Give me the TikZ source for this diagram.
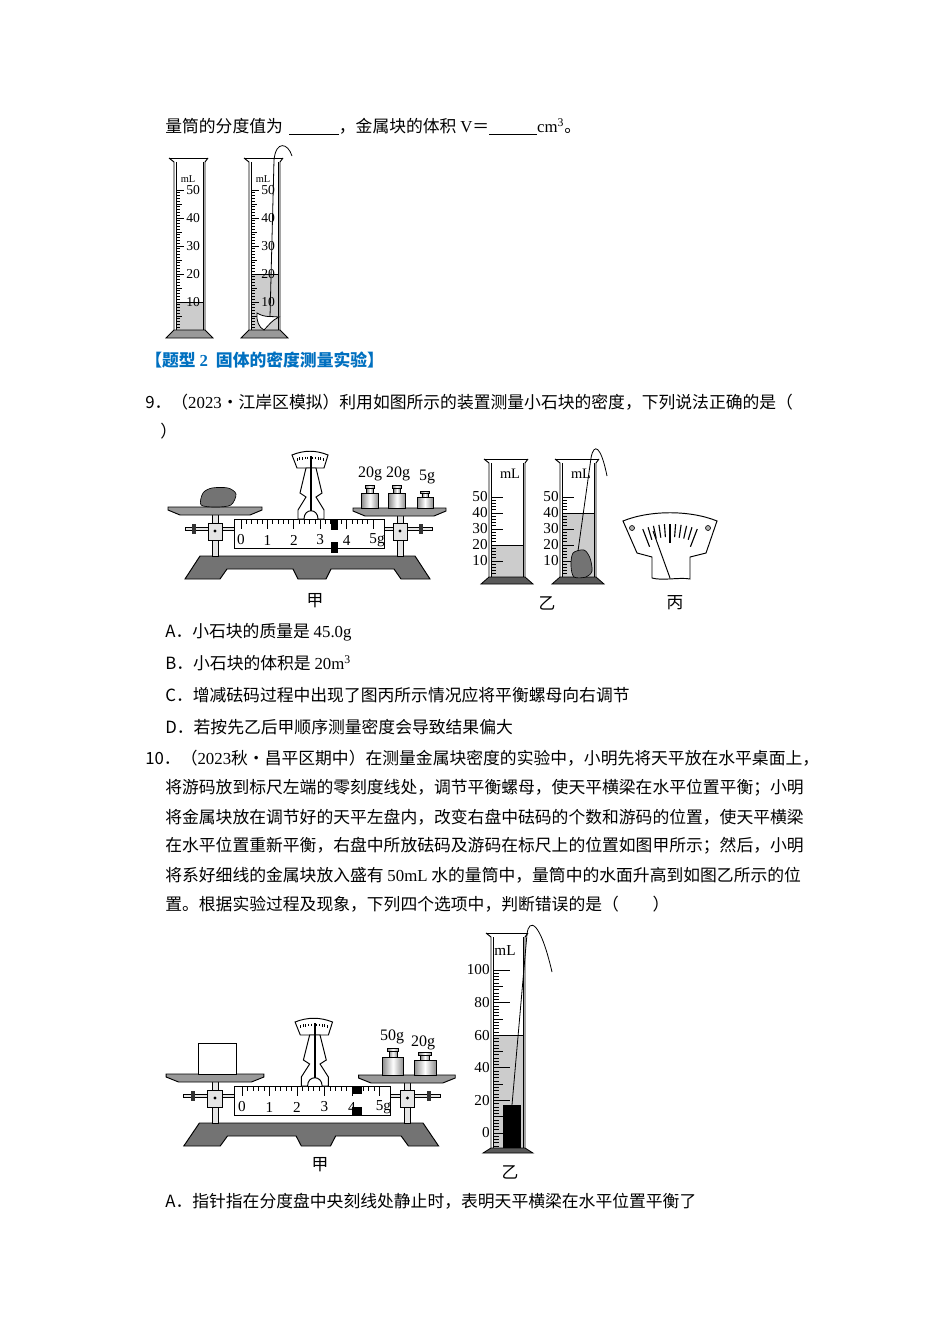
\documentclass[tikz,border=0pt]{standalone}
\usepackage{fontspec}
\setmainfont{Liberation Serif}
\newfontfamily\cjk{Noto Sans CJK SC}
\definecolor{headblue}{RGB}{0,112,192}
\newcommand*{\ltn}[1]{{\rmfamily #1}}
\newcommand*{\blank}[1]{\underline{\hspace{#1}}}
% glass tube: left, right, top, bottom
\newcommand*{\glass}[4]{%
  \draw[glassline] ({#1-5},#3) -- ({#2+3},#3);
  \draw[glassline] ({#1-5},#3) -- (#1,{#3+4}) -- (#1,#4);
  \draw[glassline] ({#2+3},#3) -- (#2,{#3+4}) -- (#2,#4);
  \draw[line width=0.3pt] ({#1+2},{#3+4}) -- ({#1+2},#4);
  \draw[line width=0.3pt] ({#2-2},{#3+4}) -- ({#2-2},#4);}
% foot of a tube: left, right, top, bottom, colour
\newcommand*{\cylbase}[5]{%
  \draw[fill=#5, line width=0.5pt] (#1,#3) -- (#2,#3) -- ({#2+8},#4) -- ({#1-8},#4) -- cycle;}
% weight: centre x, bottom y, width, height
\newcommand*{\mass}[4]{%
  \shadedraw[metal] ({#1-#3/2},{#2-#4}) rectangle ({#1+#3/2},#2);
  \shadedraw[metal] ({#1-0.19*#3},{#2-1.3*#4}) rectangle ({#1+0.19*#3},{#2-#4});
  \shadedraw[metal] ({#1-0.28*#3},{#2-1.5*#4}) rectangle ({#1+0.28*#3},{#2-1.3*#4});}
% balance without load
\newcommand*{\balanceframe}{%
  \draw[balbase] (200,556) -- (415,556) -- (430,579) -- (401,579) -- (394,569)
     -- (331,569) -- (326,579) -- (298,579) -- (293,569) -- (227,569)
     -- (220,579) -- (185,579) -- cycle;
  % screw rods
  \draw[part] (185,527.5) rectangle (236,530.5);
  \draw[part] (382,527.5) rectangle (432,530.5);
  \fill[black!80] (192,524) rectangle (196,534);
  \fill[black!80] (419,524) rectangle (423,534);
  % pillars
  \foreach \px in {215,400} {
    \draw[part] (\px-3,514) rectangle (\px+3,556);
    \draw[part] (\px-7,523) rectangle (\px+7,540);
    \fill (\px,531) circle (1.6);
  }
  % pans
  \draw[pan] (168,507) -- (262,507) -- (262,510) -- (250,515) -- (180,515) -- (168,510) -- cycle;
  \draw[pan] (353,508) -- (446,508) -- (446,511) -- (434,516) -- (365,516) -- (353,511) -- cycle;
  % beam
  \draw[fill=white, line width=0.6pt] (234,519) rectangle (384,548);
  \foreach \k in {0,...,25}
    \draw[tickline] ({241+5.28*\k},519) -- ++(0,{ifthenelse(mod(\k,5)==0,10,5)});
  \foreach \k in {0,...,4}
    \node[num] (beam\k) at ({241+26.4*\k},540) {\k};
  \node[num] (beam5) at (377,540) {5g};
  % dial and stand
  \draw[fill=white, line width=0.6pt] (292,455) .. controls (304,450) and (316,450) .. (328,455)
     -- (324,468) -- (297,468) -- cycle;
  \foreach \k in {-5,...,5}
    \draw[line width=0.3pt] ({310+2.6*\k},{456.5+0.06*\k*\k}) -- ++(0,2.5);
  \draw[fill=white, line width=0.6pt] (306,468) -- (300,493) -- (306,497) -- (298,510) -- (298,519)
     -- (304,519) .. controls (304,508) and (318,508) .. (318,519) -- (324,519) -- (324,510)
     -- (316,497) -- (322,493) -- (316,468) -- cycle;
  \draw[line width=1.3pt] (311,456) -- (311,511);}

\tikzset{
  txt/.style={anchor=west, inner sep=0pt, font=\cjk\fontsize{10.5}{12}\selectfont},
  figlabel/.style={inner sep=0pt, font=\cjk\fontsize{10.5}{12}\selectfont},
  num/.style={inner sep=0pt, font=\fontsize{9.5}{10}\selectfont},
  balbase/.style={draw, fill=black!55, line width=0.6pt},
  part/.style={draw, fill=gray!20, line width=0.4pt},
  pan/.style={draw, fill=black!40, line width=0.6pt},
  metal/.style={left color=gray!90, right color=gray!90, middle color=white, line width=0.5pt},
  tickline/.style={line width=0.4pt},
  glassline/.style={line width=0.6pt},
  water/.style={fill=gray!40},
}

\begin{document}
\begin{tikzpicture}[x=0.625pt, y=-0.625pt]
\useasboundingbox[fill=white] (0,0) rectangle (950,1344);

% Text of question 8
\node[txt] (line1) at (165,127) {量筒的分度值为\hspace{4pt}\blank{31pt}，金属块的体积 \ltn{V}＝\blank{30pt}\ltn{cm\textsuperscript{3}}。};

% Two cylinders of question 8
\fill[water] (176,302) rectangle (203,330);
\draw[glassline] (176,302) -- (203,302);
\fill[water] (251,274) rectangle (278,330);
\draw[glassline] (251,274) -- (278,274);
\foreach \sx in {0,75} {
  \foreach \k in {1,...,50} {
    \pgfmathsetmacro{\ticklen}{ifthenelse(mod(\k,10)==0,8,ifthenelse(mod(\k,5)==0,6,4))}
    \draw[tickline] ({176+\sx},{330-2.8*\k}) -- ++(\ticklen,0);
  }
  \foreach \k in {10,20,...,50}
    \node[num, anchor=west, font=\fontsize{8.5}{9}\selectfont] (top\sx n\k) at ({186+\sx},{330-2.8*\k}) {\k};
  \node[num, font=\fontsize{6.5}{7}\selectfont] (topml\sx) at ({188+\sx},179) {mL};
  \glass{174+\sx}{205+\sx}{158}{330}
  \cylbase{174+\sx}{205+\sx}{330}{338}{black!40}
}
\draw[fill=white, line width=0.5pt] (257,313) .. controls (265,318) and (272,316) .. (279,317)
   .. controls (272,320) and (268,326) .. (264,330) .. controls (259,328) and (256,320) .. cycle;
\draw[line width=0.5pt] (270,317) -- (274,160) .. controls (276,140) and (288,143) .. (292,156);

% Heading
\node[txt, font=\cjk\bfseries\fontsize{10.5}{12}\selectfont, text=headblue] (head) at (145,360) {【题型 \ltn{2}\hspace{5pt}固体的密度测量实验】};

% Question 9
\node[txt] (q9a) at (145,402) {9．（\ltn{2023}•江岸区模拟）利用如图所示的装置测量小石块的密度，下列说法正确的是（};
\node[txt] (q9b) at (160,431) {）};

% Balance of question 9
\balanceframe
\fill[black!55, draw=black, line width=0.4pt] plot[smooth cycle] coordinates
   {(201,505) (203,493) (212,488) (228,488) (236,494) (231,505) (216,507)};
\mass{370}{508}{17}{15}
\mass{397}{508}{17}{15}
\mass{425}{508}{16}{11}
\node[num, font=\fontsize{10}{11}\selectfont] (w1) at (370,474) {20g};
\node[num, font=\fontsize{10}{11}\selectfont] (w2) at (398,474) {20g};
\node[num, font=\fontsize{10}{11}\selectfont] (w3) at (427,477) {5g};
\fill (331,519) rectangle (338,530);
\fill (331,542) rectangle (338,553);
\node[figlabel] (jia1) at (315,601) {甲};

% Cylinders of question 9
\fill[water] (491,545) rectangle (523,577);
\draw[glassline] (491,545) -- (523,545);
\fill[water] (562,513) rectangle (594,577);
\draw[glassline] (562,513) -- (594,513);
\foreach \sx in {0,71} {
  \foreach \k in {2,4,...,50}
    \draw[tickline] ({491+\sx},{577-1.6*\k}) -- ++({ifthenelse(mod(\k,10)==0,12,5)},0);
  \foreach \k in {10,20,...,50}
    \node[num, anchor=east] (mid\sx n\k) at ({488+\sx},{577-1.6*\k}) {\k};
  \node[num, font=\fontsize{9}{10}\selectfont] (midml\sx) at ({510+\sx},474) {mL};
  \glass{489+\sx}{525+\sx}{459}{577}
  \cylbase{489+\sx}{525+\sx}{577}{584}{black!65}
}
\fill[black!55, draw=black, line width=0.4pt] plot[smooth cycle] coordinates
   {(573,553) (584,550) (590,558) (592,571) (586,577) (574,577) (571,566)};
\draw[line width=0.5pt] (578,551) -- (591,458) .. controls (594,442) and (601,446) .. (607,476);
\node[figlabel] (yi1) at (547,603) {乙};

% Dial of question 9
\draw[line width=0.6pt, fill=white] (623,521) .. controls (650,510) and (690,510) .. (717,521)
   -- (706,553) -- (690,557) -- (690,579) .. controls (680,577) and (662,581) .. (652,578)
   -- (652,557) -- (637,553) -- cycle;
\draw[fill=gray!60, line width=0.4pt] (632,528) circle (2.5);
\draw[fill=gray!60, line width=0.4pt] (708,528) circle (2.5);
\foreach \k in {0,...,10} {
  \pgfmathsetmacro{\ang}{111-4.2*\k}
  \pgfmathsetmacro{\rin}{ifthenelse(mod(\k,5)==0,57,63)}
  \draw[line width=0.7pt] ({670+\rin*cos(\ang)},{600-\rin*sin(\ang)}) -- ({670+76*cos(\ang)},{600-76*sin(\ang)});
}
\draw[line width=0.6pt] (670,578) -- (653,531);
\node[figlabel] (bing) at (675,603) {丙};

% Options of question 9
\node[txt] (optA) at (165,632) {A．小石块的质量是 \ltn{45.0g}};
\node[txt] (optB) at (165,663) {B．小石块的体积是 \ltn{20m\textsuperscript{3}}};
\node[txt] (optC) at (165,695) {C．增减砝码过程中出现了图丙所示情况应将平衡螺母向右调节};
\node[txt] (optD) at (165,727) {D．若按先乙后甲顺序测量密度会导致结果偏大};

% Question 10
\node[txt] (q10a) at (145,758) {10．（\ltn{2023}秋•昌平区期中）在测量金属块密度的实验中，小明先将天平放在水平桌面上，};
\node[txt] (q10b) at (165,788) {将游码放到标尺左端的零刻度线处，调节平衡螺母，使天平横梁在水平位置平衡；小明};
\node[txt] (q10c) at (165,817) {将金属块放在调节好的天平左盘内，改变右盘中砝码的个数和游码的位置，使天平横梁};
\node[txt] (q10d) at (165,846) {在水平位置重新平衡，右盘中所放砝码及游码在标尺上的位置如图甲所示；然后，小明};
\node[txt] (q10e) at (165,875) {将系好细线的金属块放入盛有 \ltn{50mL} 水的量筒中，量筒中的水面升高到如图乙所示的位};
\node[txt] (q10f) at (165,904) {置。根据实验过程及现象，下列四个选项中，判断错误的是（　　）};

% Balance of question 10
\begin{scope}[shift={(215,1123)}, xscale=1.04, shift={(-215,-556)}]
  \balanceframe
\end{scope}
\draw[fill=white, line width=0.6pt] (198,1043) rectangle (236,1074);
\mass{393}{1075}{21}{18}
\mass{425}{1075}{22}{15}
\node[num, font=\fontsize{10}{11}\selectfont] (w4) at (392,1037) {50g};
\node[num, font=\fontsize{10}{11}\selectfont] (w5) at (423,1043) {20g};
\fill (352,1086) rectangle (362,1094);
\fill (352,1107) rectangle (362,1115);
\node[figlabel] (jia2) at (320,1165) {甲};

% Cylinder of question 10
\fill[water] (493,1035) rectangle (523,1148);
\draw[glassline] (493,1035) -- (523,1035);
\foreach \k in {-8,-6,...,100} {
  \pgfmathsetmacro{\ticklen}{ifthenelse(mod(\k+100,20)==0,17,ifthenelse(mod(\k+100,10)==0,10,6))}
  \draw[tickline] (493,{1133-1.63*\k}) -- ++(\ticklen,0);
}
\foreach \k in {0,20,...,100}
  \node[num, anchor=east] (low\k) at (490,{1133-1.63*\k}) {\k};
\fill (503,1105) rectangle (521,1148);
\draw[line width=0.5pt] (512,1105) -- (527,934) .. controls (529,918) and (540,920) .. (552,972);
\node[num, font=\fontsize{9.5}{10}\selectfont] (lowml) at (505,951) {mL};
\glass{491}{525}{933}{1148}
\cylbase{491}{525}{1148}{1153}{black!65}
\node[figlabel] (yi2) at (510,1172) {乙};

% Option A of question 10
\node[txt] (last) at (165,1201) {A．指针指在分度盘中央刻线处静止时，表明天平横梁在水平位置平衡了};
\end{tikzpicture}
\end{document}
